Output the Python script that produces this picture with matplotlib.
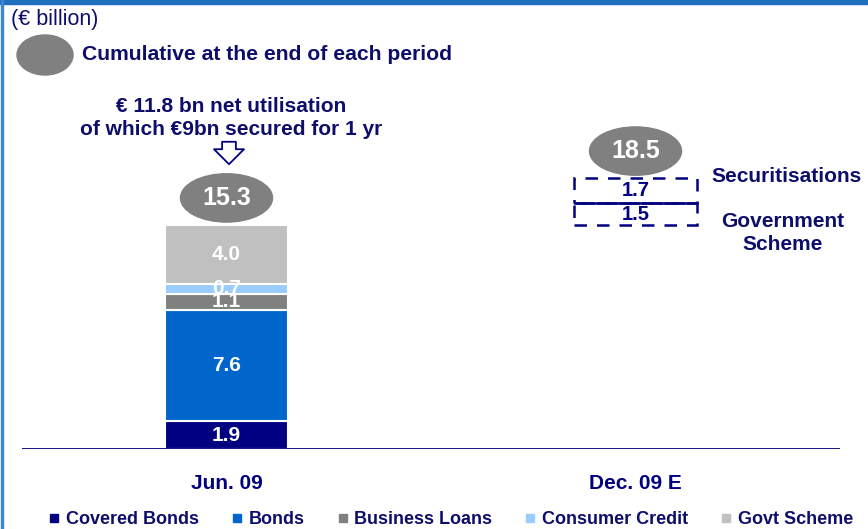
import matplotlib.pyplot as plt
from matplotlib.patches import Ellipse, Rectangle, FancyArrowPatch
from matplotlib.lines import Line2D

plt.rcParams['font.family'] = ['Liberation Sans', 'DejaVu Sans']

NAVY = '#000080'
TEXT = '#0d0d6b'

periods = ['Jun. 09', 'Dec. 09 E']
segments = ['Covered Bonds', 'Bonds', 'Business Loans', 'Consumer Credit', 'Govt Scheme']
seg_colors = ['#000080', '#0066cc', '#808080', '#99ccff', '#c0c0c0']
jun_values = [1.9, 7.6, 1.1, 0.7, 4.0]
jun_total = 15.3
dec_extra = ['Government\nScheme', 'Securitisations']
dec_values = [1.5, 1.7]
dec_total = 18.5

W, H = 868, 529
fig = plt.figure(figsize=(W / 100, H / 100), dpi=100)
ax = fig.add_axes([22 / W, 80 / H, 818 / W, 366 / H])
ax.set_xlim(-0.5, 1.5)
ax.set_ylim(0, 25)
bw = 0.30

# Jun. 09 stacked bar
bottom = 0
for val, col in zip(jun_values, seg_colors):
    ax.bar(0, val, bw, bottom=bottom, color=col, edgecolor='white', linewidth=1.5)
    ax.text(0, bottom + val / 2, f'{val:.1f}', ha='center', va='center',
            color='white', fontsize=15, fontweight='bold')
    bottom += val

# Dec. 09 E dashed additions on top of Jun total
bottom = jun_total
for val in dec_values:
    ax.bar(1, val, bw, bottom=bottom, fill=False, edgecolor=NAVY,
           linestyle=(0, (5, 4)), linewidth=1.8)
    ax.text(1, bottom + val / 2, f'{val:.1f}', ha='center', va='center',
            color=NAVY, fontsize=14.5, fontweight='bold')
    bottom += val
ax.hlines(jun_total + dec_values[0], 1 - bw / 2, 1 + bw / 2, color=NAVY, lw=1.8)

# totals in grey ellipses
for x, tot in [(0, jun_total), (1, dec_total)]:
    ax.add_patch(Ellipse((x, tot + 1.85), 0.225, 3.3, color='#808080', zorder=3))
    ax.text(x, tot + 1.85, f'{tot:.1f}', ha='center', va='center', color='white',
            fontsize=18, fontweight='bold', zorder=4)

ax.axhline(0, color=NAVY, lw=2)
for s in ax.spines.values():
    s.set_visible(False)
ax.set_yticks([])
ax.set_xticks([0, 1])
ax.set_xticklabels(periods, fontsize=15, fontweight='bold', color=NAVY)
ax.tick_params(axis='x', length=0, pad=18)

# right side labels
fig.text(711 / W, 1 - 177 / H, dec_extra[1], ha='left', va='center',
         fontsize=15, fontweight='bold', color=TEXT)
fig.text(783 / W, 1 - 233 / H, dec_extra[0], ha='center', va='center',
         fontsize=15, fontweight='bold', color=TEXT, linespacing=1.25)

# annotation and hollow arrow
fig.text(231 / W, 1 - 118 / H, '€ 11.8 bn net utilisation\nof which €9bn secured for 1 yr',
         ha='center', va='center', fontsize=15, fontweight='bold', color=TEXT,
         linespacing=1.3)
fig.patches.append(FancyArrowPatch(
    (229 / W, 1 - 139 / H), (229 / W, 1 - 167 / H), transform=fig.transFigure,
    arrowstyle='simple,head_width=1.2,head_length=0.6,tail_width=0.55',
    mutation_scale=18, fc='white', ec=NAVY, lw=1.3))

# header
fig.text(11 / W, 1 - 19 / H, '(€ billion)', ha='left', va='center',
         fontsize=15.5, color=TEXT)
fig.patches.append(Ellipse((45 / W, 1 - 55 / H), 56 / W, 40 / H,
                           transform=fig.transFigure, color='#808080'))
fig.text(82 / W, 1 - 55 / H, 'Cumulative at the end of each period', ha='left',
         va='center', fontsize=15.2, fontweight='bold', color=TEXT)

# frame decorations
fig.patches.append(Rectangle((0, 1 - 4 / H), 1, 4 / H, transform=fig.transFigure,
                             color='#1f6fbf'))
fig.patches.append(Rectangle((1 / W, 0), 2 / W, 1, transform=fig.transFigure,
                             color='#3a86d0'))

# legend
handles = [Line2D([], [], marker='s', color=c, linestyle='', markersize=6)
           for c in seg_colors]
leg = fig.legend(handles, segments, loc='center', bbox_to_anchor=(0.52, 1 - 520 / H),
                 ncol=5, frameon=False, handlelength=0.5, handletextpad=0.4,
                 columnspacing=1.85, prop={'size': 13, 'weight': 'bold'})
for t in leg.get_texts():
    t.set_color(TEXT)

fig.savefig('out.png', dpi=100)
